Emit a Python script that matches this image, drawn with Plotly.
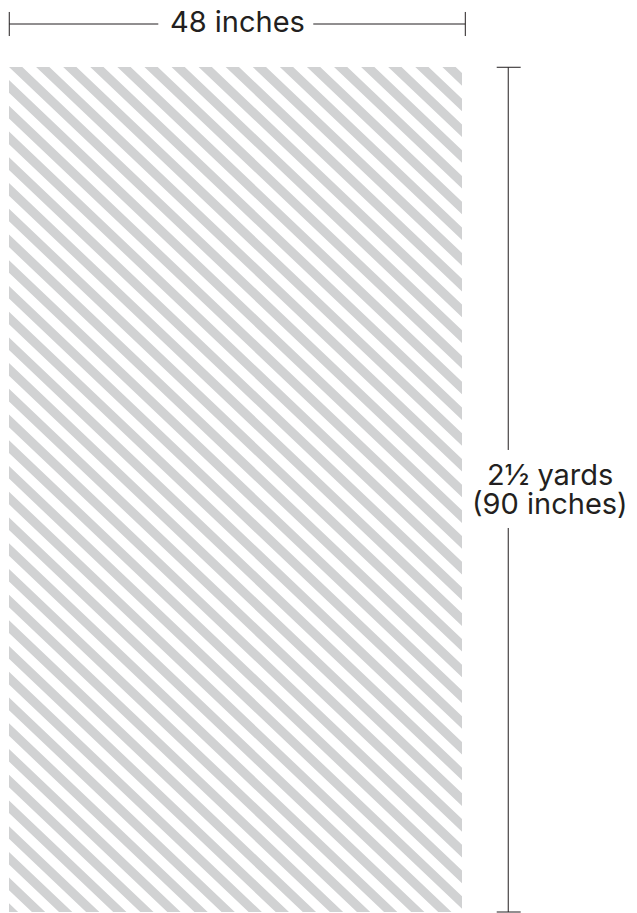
import plotly.graph_objects as go

# ---- data ----
fabric_width_in = 48          # inches
fabric_length_in = 90         # inches (2½ yards)
width_label = ["48 inches"]
length_labels = ["2½ yards", "(90 inches)"]

# stripe pattern (inches)
stripe_period_x = 2.87
stripe_period_y = 2.74
stripe_fill_frac = 0.49

GRAY = "#d1d2d3"
INK = "#231f20"
FONT = "Inter"


def clip_halfplane(poly, f, keep_ge):
    """Sutherland-Hodgman clip by f(p) >= 0 (keep_ge) or f(p) <= 0."""
    out = []
    n = len(poly)
    for i in range(n):
        a = poly[i]
        b = poly[(i + 1) % n]
        fa, fb = f(a), f(b)
        ina = fa >= 0 if keep_ge else fa <= 0
        inb = fb >= 0 if keep_ge else fb <= 0
        if ina:
            out.append(a)
        if ina != inb:
            t = fa / (fa - fb)
            out.append((a[0] + t * (b[0] - a[0]), a[1] + t * (b[1] - a[1])))
    return out


W, H = fabric_width_in, fabric_length_in
m = stripe_period_y / stripe_period_x
Pu = stripe_period_y
g = stripe_fill_frac * Pu
rect = [(0, 0), (W, 0), (W, H), (0, H)]

xs, ys = [], []
kmin = int((-m * W) // Pu) - 1
kmax = int(H // Pu) + 2
for k in range(kmin, kmax + 1):
    hi = k * Pu
    lo = hi - g
    poly = clip_halfplane(rect, lambda p, lo=lo: (p[1] - m * p[0]) - lo, True)
    if len(poly) < 3:
        continue
    poly = clip_halfplane(poly, lambda p, hi=hi: (p[1] - m * p[0]) - hi, False)
    if len(poly) < 3:
        continue
    for (px, py) in poly:
        xs.append(px)
        ys.append(py)
    xs.append(poly[0][0])
    ys.append(poly[0][1])
    xs.append(None)
    ys.append(None)

fig = go.Figure()

# white fabric background
fig.add_trace(go.Scatter(
    x=[0, W, W, 0, 0], y=[0, 0, H, H, 0], mode="lines",
    fill="toself", fillcolor="white", line=dict(width=0),
    hoverinfo="skip", showlegend=False))

# stripes
fig.add_trace(go.Scatter(
    x=xs, y=ys, mode="lines", fill="toself", fillcolor=GRAY,
    line=dict(width=0), hoverinfo="skip", showlegend=False))

# ---- width dimension (top) ----
dim_y = -4.58
tick_half = 1.28
x0d, x1d = 0.03, W + 0.35
gap_l, gap_r = 15.82, 32.24
lx = [x0d, gap_l, None, gap_r, x1d, None, x0d, x0d, None, x1d, x1d]
ly = [dim_y, dim_y, None, dim_y, dim_y, None,
      dim_y - tick_half, dim_y + tick_half, None, dim_y - tick_half, dim_y + tick_half]
fig.add_trace(go.Scatter(x=lx, y=ly, mode="lines",
                         line=dict(color=INK, width=1),
                         hoverinfo="skip", showlegend=False))

# ---- length dimension (right) ----
vx = 52.9
cap_l, cap_r = 51.68, 54.22
gap_t, gap_b = 40.79, 49.1
vxs = [vx, vx, None, vx, vx, None, cap_l, cap_r, None, cap_l, cap_r]
vys = [0.03, gap_t, None, gap_b, H, None, 0.03, 0.03, None, H, H]
fig.add_trace(go.Scatter(x=vxs, y=vys, mode="lines",
                         line=dict(color=INK, width=1),
                         hoverinfo="skip", showlegend=False))

fig.add_annotation(x=(x0d + x1d) / 2, y=dim_y - 0.3, text=width_label[0],
                   showarrow=False, xanchor="center", yanchor="middle",
                   font=dict(family=FONT, size=29, color=INK))
fig.add_annotation(x=57.3, y=43.45, text=length_labels[0],
                   showarrow=False, xanchor="center", yanchor="middle",
                   font=dict(family=FONT, size=29, color=INK))
fig.add_annotation(x=57.3, y=46.49, text=length_labels[1],
                   showarrow=False, xanchor="center", yanchor="middle",
                   font=dict(family=FONT, size=29, color=INK))

fig.update_xaxes(range=[-9 / 9.4375, (637 - 9) / 9.4375], visible=False,
                 fixedrange=True)
fig.update_yaxes(range=[(913 - 67) / 9.3889, -67 / 9.3889], visible=False,
                 fixedrange=True)
fig.update_layout(width=637, height=913, margin=dict(l=0, r=0, t=0, b=0),
                  paper_bgcolor="white", plot_bgcolor="white",
                  showlegend=False, hovermode=False)

# remove the browser's default 8px page margin so the figure fills the window
fig.write_html("out.html",
               config={"displayModeBar": False, "staticPlot": True},
               post_script="document.body.style.margin='0';"
                           "document.body.style.overflow='hidden';")
